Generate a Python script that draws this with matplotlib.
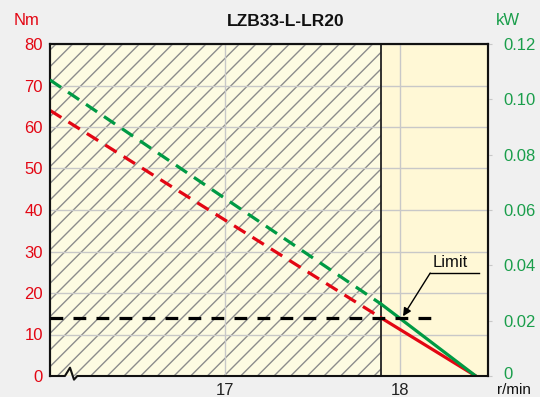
import matplotlib
matplotlib.use("Agg")
import matplotlib.pyplot as plt
import matplotlib.transforms as mtransforms
from matplotlib.lines import Line2D

plt.rcParams['font.family'] = ['Liberation Sans', 'DejaVu Sans']
plt.rcParams['hatch.linewidth'] = 1.0

# Characteristic curves (speed in r/min)
speed = [16.0, 17.89, 18.43]
torque_nm = [64, 14, 0]
power_kw = [0.107, 0.026, 0]

limit_speed = 17.89
limit_torque = 14

x_ticks = [17, 18]
torque_ticks = [0, 10, 20, 30, 40, 50, 60, 70, 80]
power_ticks = [0, 0.02, 0.04, 0.06, 0.08, 0.10, 0.12]
power_labels = ['0', '0.02', '0.04', '0.06', '0.08', '0.10', '0.12']

RED = '#E30613'
GREEN = '#009A44'
GREEN_TXT = '#1A9E4B'
FS = 12

fig = plt.figure(figsize=(5.4, 3.97), dpi=100, facecolor='#F0F0F0')
ax = fig.add_axes([50/540, 1-376/397, 438/540, 332/397])
ax.set_facecolor('#FFF8D6')
ax.set_xlim(16.0, 18.5)
ax.set_ylim(0, 80)

# hatched region left of the limit speed
ax.axvspan(16.0, limit_speed, facecolor='#FDFBE2', edgecolor='#8C8C8C',
           hatch='//', linewidth=0, zorder=1)
ax.axvline(limit_speed, color='#222222', lw=1.3, zorder=3)

ax.grid(True, color='#C8C8C8', lw=1.0, zorder=1.5)
ax.set_axisbelow('line')
ax.set_xticks(x_ticks)
ax.set_yticks(torque_ticks)
ax.tick_params(axis='x', length=0, pad=5, labelsize=FS, labelcolor='#222222')
ax.tick_params(axis='y', length=0, pad=5, labelsize=FS, labelcolor=RED)

for s in ['left', 'top', 'right']:
    ax.spines[s].set_linewidth(1.5)
    ax.spines[s].set_color('#111111')
ax.spines['bottom'].set_visible(False)

# torque curve: dashed before the limit, solid after
ax.plot(speed[:2], torque_nm[:2], color=RED, lw=2.3, dashes=(4.2, 2.6),
        solid_capstyle='butt', dash_capstyle='butt', zorder=4)
ax.plot(speed[1:], torque_nm[1:], color=RED, lw=2.3, zorder=4)

ax2 = ax.twinx()
ax2.set_ylim(0, 0.12)
ax2.set_yticks(power_ticks)
ax2.set_yticklabels(power_labels)
ax2.tick_params(axis='y', length=3, color='#C8C8C8', pad=8, labelsize=FS,
                labelcolor=GREEN_TXT)
for s in ['left', 'top', 'right']:
    ax2.spines[s].set_linewidth(1.5)
    ax2.spines[s].set_color('#111111')
ax2.spines['bottom'].set_visible(False)

# lift the lowest power label slightly clear of the unit text below it
zero_lbl = ax2.get_yticklabels()[0]
zero_lbl.set_transform(zero_lbl.get_transform() +
                       mtransforms.ScaledTranslation(0, 3/100, fig.dpi_scale_trans))

ax2.plot(speed[:2], power_kw[:2], color=GREEN, lw=2.3, dashes=(4.2, 2.6),
         dash_capstyle='butt', zorder=4)
ax2.plot(speed[1:], power_kw[1:], color=GREEN, lw=2.3, zorder=4)

# torque limit line and label
ax2.plot([16.0, 18.23], [limit_torque, limit_torque], transform=ax.transData,
         color='black', lw=2.3, dashes=(4.0, 3.2), dash_capstyle='butt', zorder=5)
ax2.plot([18.17, 18.45], [24.8, 24.8], transform=ax.transData,
         color='black', lw=1.0, zorder=5)
ax2.annotate('', xy=(18.015, 14.4), xytext=(18.17, 24.8),
             xycoords=ax.transData, textcoords=ax.transData,
             arrowprops=dict(arrowstyle='-|>', color='black', lw=1.0,
                             mutation_scale=12, shrinkA=0, shrinkB=0), zorder=6)
ax2.text(18.285, 27.4, 'Limit', transform=ax.transData, ha='center',
         va='center', fontsize=FS, color='#111111')

# bottom axis line with break mark
bx = [0, 0.034, 0.0457, 0.0548, 0.0623, 1.0]
by = [0, 0, 0.025, -0.011, 0, 0]
ax2.add_line(Line2D(bx, by, transform=ax.transAxes, color='#111111', lw=1.5,
                    clip_on=False, zorder=7))

fig.text(286/540, 1-21/397, 'LZB33-L-LR20', ha='center', va='center',
         fontsize=12.5, fontweight='bold', color='#111111')
fig.text(27/540, 1-20.5/397, 'Nm', ha='center', va='center', fontsize=FS,
         color=RED)
fig.text(508/540, 1-20.5/397, 'kW', ha='center', va='center', fontsize=FS,
         color=GREEN_TXT)
fig.text(497/540, 1-396.5/397, 'r/min', ha='left', va='bottom', fontsize=11,
         color='#111111')

fig.savefig('out.png', dpi=100, facecolor=fig.get_facecolor())
